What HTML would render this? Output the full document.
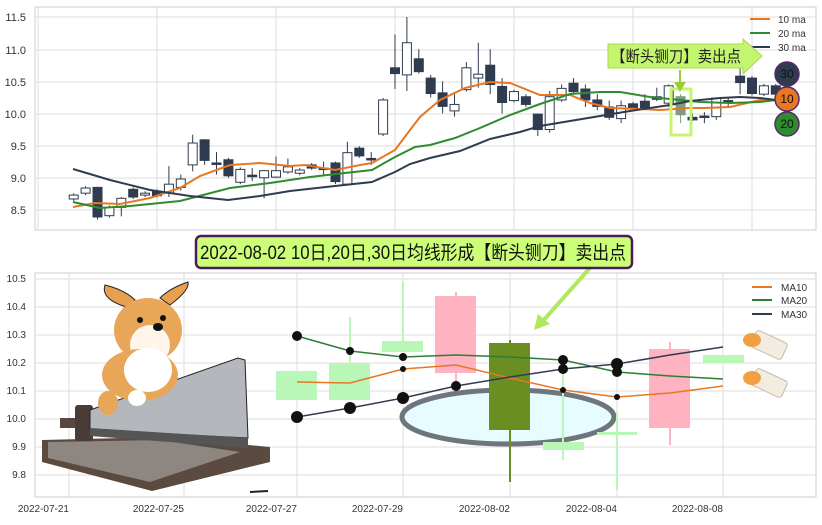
<!DOCTYPE html>
<html><head><meta charset="utf-8"><style>
body{margin:0;background:#fff;}
svg text{font-family:"Liberation Sans","Noto Sans CJK SC",sans-serif;}
</style></head><body>
<svg id="s" width="822" height="520" viewBox="0 0 822 520" xmlns="http://www.w3.org/2000/svg">
<rect width="822" height="520" fill="#fff"/>
<!-- top panel -->
<rect x="35" y="7" width="781" height="223" fill="#fff" stroke="#ccc"/>
<g stroke="#ddd" stroke-width="1">
<line x1="35" x2="816" y1="17" y2="17"/><line x1="35" x2="816" y1="50" y2="50"/><line x1="35" x2="816" y1="82" y2="82"/><line x1="35" x2="816" y1="114" y2="114"/><line x1="35" x2="816" y1="146" y2="146"/><line x1="35" x2="816" y1="178" y2="178"/><line x1="35" x2="816" y1="210" y2="210"/>
<line x1="38" x2="38" y1="7" y2="230"/><line x1="157" x2="157" y1="7" y2="230"/><line x1="276" x2="276" y1="7" y2="230"/><line x1="395" x2="395" y1="7" y2="230"/><line x1="514" x2="514" y1="7" y2="230"/><line x1="633" x2="633" y1="7" y2="230"/><line x1="752" x2="752" y1="7" y2="230"/>
</g>
<g font-size="11" fill="#333" text-anchor="end">
<text x="26" y="21">11.5</text><text x="26" y="54">11.0</text><text x="26" y="86">10.5</text><text x="26" y="118">10.0</text><text x="26" y="150">9.5</text><text x="26" y="182">9.0</text><text x="26" y="214">8.5</text>
</g>
<g id="tc"></g>
<g fill="none" stroke-width="2">
<polyline stroke="#e87722" points="73,207 95,203 120,204 150,198 180,188 200,176 230,165 260,163 290,166 305,165 335,170 360,165 372,163 395,150 410,130 420,117 440,100 465,88 490,82 510,83 540,95 570,95 590,103 610,108 640,109 660,110 690,108 705,108 730,107 760,100 776,100"/>
<polyline stroke="#2e8b2e" points="73,202 100,208 130,206 180,201 230,188 270,183 310,177 345,173 372,170 395,157 415,147 430,145 455,138 480,128 510,115 540,104 570,94 600,92 620,92 650,97 680,100 700,102 730,103 760,102 776,100"/>
<polyline stroke="#2f3b4f" points="73,169 110,180 150,190 190,196 228,200 260,196 290,191 335,186 372,182 395,172 410,164 430,158 460,151 490,139 520,132 540,126 570,121 600,116 630,111 670,105 690,101 720,98 740,97 760,98 776,100"/>
</g>
<rect x="671" y="89" width="20" height="46" fill="none" stroke="#c4f56e" stroke-width="3"/>
<g font-size="10" fill="#333">
<line x1="750" x2="770" y1="19" y2="19" stroke="#e87722" stroke-width="2"/><text x="778" y="23">10 ma</text>
<line x1="750" x2="770" y1="33" y2="33" stroke="#2e8b2e" stroke-width="2"/><text x="778" y="37">20 ma</text>
<line x1="750" x2="770" y1="47" y2="47" stroke="#2f3b4f" stroke-width="2"/><text x="778" y="51">30 ma</text>
</g>
<polygon points="608,44 743,44 743,39 762,56 743,74 743,68 608,68" fill="#c4f56e" stroke="#aad94a"/>
<text x="611" y="62" font-size="16" fill="#222" textLength="130" lengthAdjust="spacingAndGlyphs">【断头铡刀】卖出点</text>
<line x1="680" y1="70" x2="680" y2="86" stroke="#9ccc3c" stroke-width="2"/>
<polygon points="674,82 686,82 680,92" fill="#9ccc3c"/>
<g font-size="12" text-anchor="middle" stroke="#5a2a6a" stroke-width="1.5">
<circle cx="787" cy="74" r="12" fill="#2f3b4f"/><circle cx="787" cy="99" r="12" fill="#e87722"/><circle cx="787" cy="124" r="12" fill="#2e8b2e"/>
</g>
<g font-size="12" text-anchor="middle" fill="#111"><text x="787" y="78">30</text><text x="787" y="103">10</text><text x="787" y="128">20</text></g>

<!-- bottom panel -->
<rect x="35" y="273" width="781" height="224" fill="#fff" stroke="#ccc"/>
<g stroke="#ddd">
<line x1="35" x2="816" y1="279" y2="279"/><line x1="35" x2="816" y1="307" y2="307"/><line x1="35" x2="816" y1="335" y2="335"/><line x1="35" x2="816" y1="363" y2="363"/><line x1="35" x2="816" y1="391" y2="391"/><line x1="35" x2="816" y1="419" y2="419"/><line x1="35" x2="816" y1="447" y2="447"/><line x1="35" x2="816" y1="475" y2="475"/>
<line x1="69" x2="69" y1="273" y2="497"/><line x1="184" x2="184" y1="273" y2="497"/><line x1="297" x2="297" y1="273" y2="497"/><line x1="403" x2="403" y1="273" y2="497"/><line x1="510" x2="510" y1="273" y2="497"/><line x1="617" x2="617" y1="273" y2="497"/><line x1="723" x2="723" y1="273" y2="497"/>
</g>
<g font-size="10" fill="#333" text-anchor="end">
<text x="26" y="282">10.5</text><text x="26" y="310">10.4</text><text x="26" y="338">10.3</text><text x="26" y="366">10.2</text><text x="26" y="394">10.1</text><text x="26" y="422">10.0</text><text x="26" y="450">9.9</text><text x="26" y="478">9.8</text>
<text x="69" y="512">2022-07-21</text><text x="184" y="512">2022-07-25</text><text x="297" y="512">2022-07-27</text><text x="403" y="512">2022-07-29</text><text x="510" y="512">2022-08-02</text><text x="617" y="512">2022-08-04</text><text x="723" y="512">2022-08-08</text>
</g>
<!-- candles bottom -->
<g>
<rect x="276" y="371" width="41" height="29" fill="#b8f7b8"/>
<line x1="350" x2="350" y1="317" y2="400" stroke="#b8f7b8" stroke-width="2"/><rect x="329" y="363" width="41" height="37" fill="#b8f7b8"/>
<line x1="403" x2="403" y1="282" y2="352" stroke="#b8f7b8" stroke-width="2"/><rect x="382" y="341" width="41" height="11" fill="#b8f7b8"/>
<line x1="456" x2="456" y1="292" y2="426" stroke="#ffb3c1" stroke-width="2"/><rect x="435" y="296" width="41" height="77" fill="#ffb3c1"/>
<ellipse cx="508" cy="417" rx="106" ry="27" fill="#e6fcff" stroke="#6e757c" stroke-width="5"/>
<line x1="563" x2="563" y1="357" y2="460" stroke="#b8f7b8" stroke-width="2"/><rect x="543" y="442" width="41" height="8" fill="#b8f7b8"/>
<line x1="617" x2="617" y1="412" y2="490" stroke="#b8f7b8" stroke-width="2"/><rect x="597" y="432" width="40" height="3" fill="#b8f7b8"/>
<line x1="510" x2="510" y1="340" y2="482" stroke="#6b8e23" stroke-width="2"/><rect x="489" y="343" width="41" height="87" fill="#6b8e23"/>
<line x1="670" x2="670" y1="342" y2="445" stroke="#ffb3c1" stroke-width="2"/><rect x="649" y="349" width="41" height="79" fill="#ffb3c1"/>
<rect x="703" y="355" width="41" height="8" fill="#b8f7b8"/>
</g>
<g fill="none" stroke-width="1.5">
<polyline stroke="#e87722" points="297,382 350,383 403,369 456,365 510,378 563,390 617,397 670,393 723,386"/>
<polyline stroke="#2e7d32" points="297,336 350,351 403,357 456,355 510,357 563,360 617,372 670,376 723,379"/>
<polyline stroke="#2f3b4f" points="297,417 350,408 403,398 456,386 510,377 563,369 617,364 670,355 723,347"/>
</g>
<g fill="#111">
<circle cx="297" cy="336" r="5"/><circle cx="297" cy="417" r="6"/><circle cx="350" cy="351" r="4"/><circle cx="350" cy="408" r="6"/>
<circle cx="403" cy="357" r="4"/><circle cx="403" cy="398" r="6"/><circle cx="403" cy="369" r="3"/><circle cx="456" cy="386" r="5"/>
<circle cx="563" cy="360" r="5"/><circle cx="563" cy="369" r="5"/><circle cx="563" cy="390" r="3"/><circle cx="617" cy="364" r="6"/><circle cx="617" cy="372" r="5"/><circle cx="617" cy="397" r="3"/>
</g>
<!-- cleavers -->
<g>
<rect x="752" y="336" width="34" height="18" rx="3" fill="#f3ece0" stroke="#c8bca8" transform="rotate(25 769 345)"/>
<ellipse cx="752" cy="340" rx="9" ry="7" fill="#f0a040"/>
<rect x="752" y="374" width="34" height="18" rx="3" fill="#f3ece0" stroke="#c8bca8" transform="rotate(25 769 383)"/>
<ellipse cx="752" cy="378" rx="9" ry="7" fill="#f0a040"/>
</g>
<g font-size="10" fill="#333">
<line x1="752" x2="772" y1="287" y2="287" stroke="#e87722" stroke-width="2"/><text x="781" y="291">MA10</text>
<line x1="752" x2="772" y1="300" y2="300" stroke="#2e7d32" stroke-width="2"/><text x="781" y="304">MA20</text>
<line x1="752" x2="772" y1="314" y2="314" stroke="#2f3b4f" stroke-width="2"/><text x="781" y="318">MA30</text>
</g>
<!-- arrow -->
<line x1="613" y1="242" x2="542" y2="322" stroke="#b0e860" stroke-width="4"/>
<polygon points="534,330 538,314 550,324" fill="#b0e860"/>
<!-- corgi + saw -->
<g>
<polygon points="42,440 160,437 270,447 270,462 152,491 42,462" fill="#5a4a40"/>
<polygon points="48,442 160,440 240,452 150,482 48,458" fill="#8e8680"/>
<rect x="60" y="418" width="28" height="10" fill="#5a4640"/>
<rect x="75" y="405" width="18" height="36" rx="3" fill="#4a3c36"/>
<polygon points="90,410 238,358 245,360 248,438 90,430" fill="#b4b8bc" stroke="#222" stroke-width="1"/>
<polygon points="90,428 248,438 248,448 90,436" fill="#555"/>
<path d="M130,308 Q100,300 105,285 Q125,290 135,300 Z" fill="#e8a050" stroke="#222"/>
<path d="M170,305 Q190,290 188,282 Q170,288 160,298 Z" fill="#e8a050" stroke="#222"/>
<ellipse cx="148" cy="330" rx="34" ry="32" fill="#e8a658"/>
<ellipse cx="150" cy="345" rx="20" ry="20" fill="#fff5ea"/>
<ellipse cx="140" cy="375" rx="38" ry="26" fill="#e8a658"/>
<ellipse cx="148" cy="370" rx="24" ry="22" fill="#fff"/>
<circle cx="140" cy="320" r="3" fill="#111"/><circle cx="163" cy="318" r="3" fill="#111"/>
<ellipse cx="158" cy="327" rx="5" ry="4" fill="#111"/>
<ellipse cx="108" cy="403" rx="10" ry="12" fill="#e8a658"/>
<ellipse cx="137" cy="398" rx="9" ry="8" fill="#fff"/>
<line x1="250" y1="492" x2="268" y2="491" stroke="#222" stroke-width="2"/>
</g>
<!-- title box -->
<rect x="196" y="236" width="436" height="32" rx="5" fill="#ccff77" stroke="#4a1a5a" stroke-width="2.5"/>
<text x="200" y="259" font-size="19" fill="#111" textLength="426" lengthAdjust="spacingAndGlyphs">2022-08-02 10日,20日,30日均线形成【断头铡刀】卖出点</text>
</svg>
<script>
var d=[[8.73,8.67,0],[8.84,8.76,0],[8.85,8.39,1,8.86,8.35],[8.54,8.41,0],[8.68,8.54,0,8.7,8.4],[8.82,8.70,1],[8.76,8.73,0],[8.79,8.72,1],[8.90,8.76,0,9.18,8.7],[8.98,8.85,0,9.05,8.8],[9.54,9.20,0,9.67,9.1],[9.59,9.27,1,9.6,9.2],[9.23,9.21,1,9.4,9.05],[9.28,9.03,1],[9.13,8.93,0,9.16,8.9],[9.04,9.02,1,9.15,8.95],[9.11,9.00,0,9.12,8.68],[9.11,9.01,0,9.33,9.0],[9.17,9.09,0,9.3],[9.12,9.07,0],[9.2,9.15,1],[9.15,9.13,1,9.25,9.05],[9.23,8.94,1,9.25,8.9],[9.39,8.90,0,9.56,8.9],[9.46,9.34,1],[9.30,9.28,1,9.4,9.2],[10.21,9.68,0],[10.71,10.62,1,11.23,10.38],[11.1,10.6,0,11.5,10.35],[10.85,10.65,1,11.0],[10.55,10.31,1,10.6,10.25],[10.32,10.11,1,10.5,10.0],[10.14,10.04,0,10.3,9.95],[10.71,10.37,0,10.8],[10.61,10.55,0,11.1,10.4],[10.75,10.45,1,11.0,10.3],[10.42,10.17,1,10.55,10.0],[10.34,10.20,0],[10.26,10.14,1,10.3,10.1],[9.99,9.75,1,10.0,9.65],[10.26,9.75,0,10.35,9.7],[10.39,10.21,0,10.45],[10.47,10.34,1,10.55],[10.38,10.21,1,10.45,10.1],[10.21,10.11,1,10.3,10.05],[10.10,9.94,1,10.2,9.9],[10.12,9.92,0,10.2,9.85],[10.15,10.08,1],[10.19,10.08,1,10.3],[10.26,10.22,1,10.4],[10.43,10.16,0,10.45,10.1],[10.26,9.98,2,10.3,9.85],[9.94,9.90,1,10.0,9.88],[9.96,9.94,1,10.02,9.85],[10.24,9.95,0,10.25,9.9],[10.20,10.18,1,10.25,10.1],[10.58,10.48,1,10.7,10.3],[10.55,10.31,1],[10.43,10.30,0],[10.43,10.30,1]];
var g=document.getElementById('tc'),ns='http://www.w3.org/2000/svg';
function y(v){return 17+(11.5-v)*64.3;}
d.forEach(function(c,i){var x=73.7+11.9*i;var hi=c[3]||c[0]+0.03,lo=c[4]||c[1]-0.03;
var col=c[2]==2?'#7f9a80':'#2f3b4f';
var l=document.createElementNS(ns,'line');l.setAttribute('x1',x);l.setAttribute('x2',x);l.setAttribute('y1',y(hi));l.setAttribute('y2',y(lo));l.setAttribute('stroke',col);g.appendChild(l);
var r=document.createElementNS(ns,'rect');var h=Math.max(1.5,y(c[1])-y(c[0]));r.setAttribute('x',x-4.5);r.setAttribute('y',y(c[0]));r.setAttribute('width',9);r.setAttribute('height',h);
r.setAttribute('fill',c[2]?col:'#fff');r.setAttribute('stroke',col);g.appendChild(r);});
</script>
</body></html>
